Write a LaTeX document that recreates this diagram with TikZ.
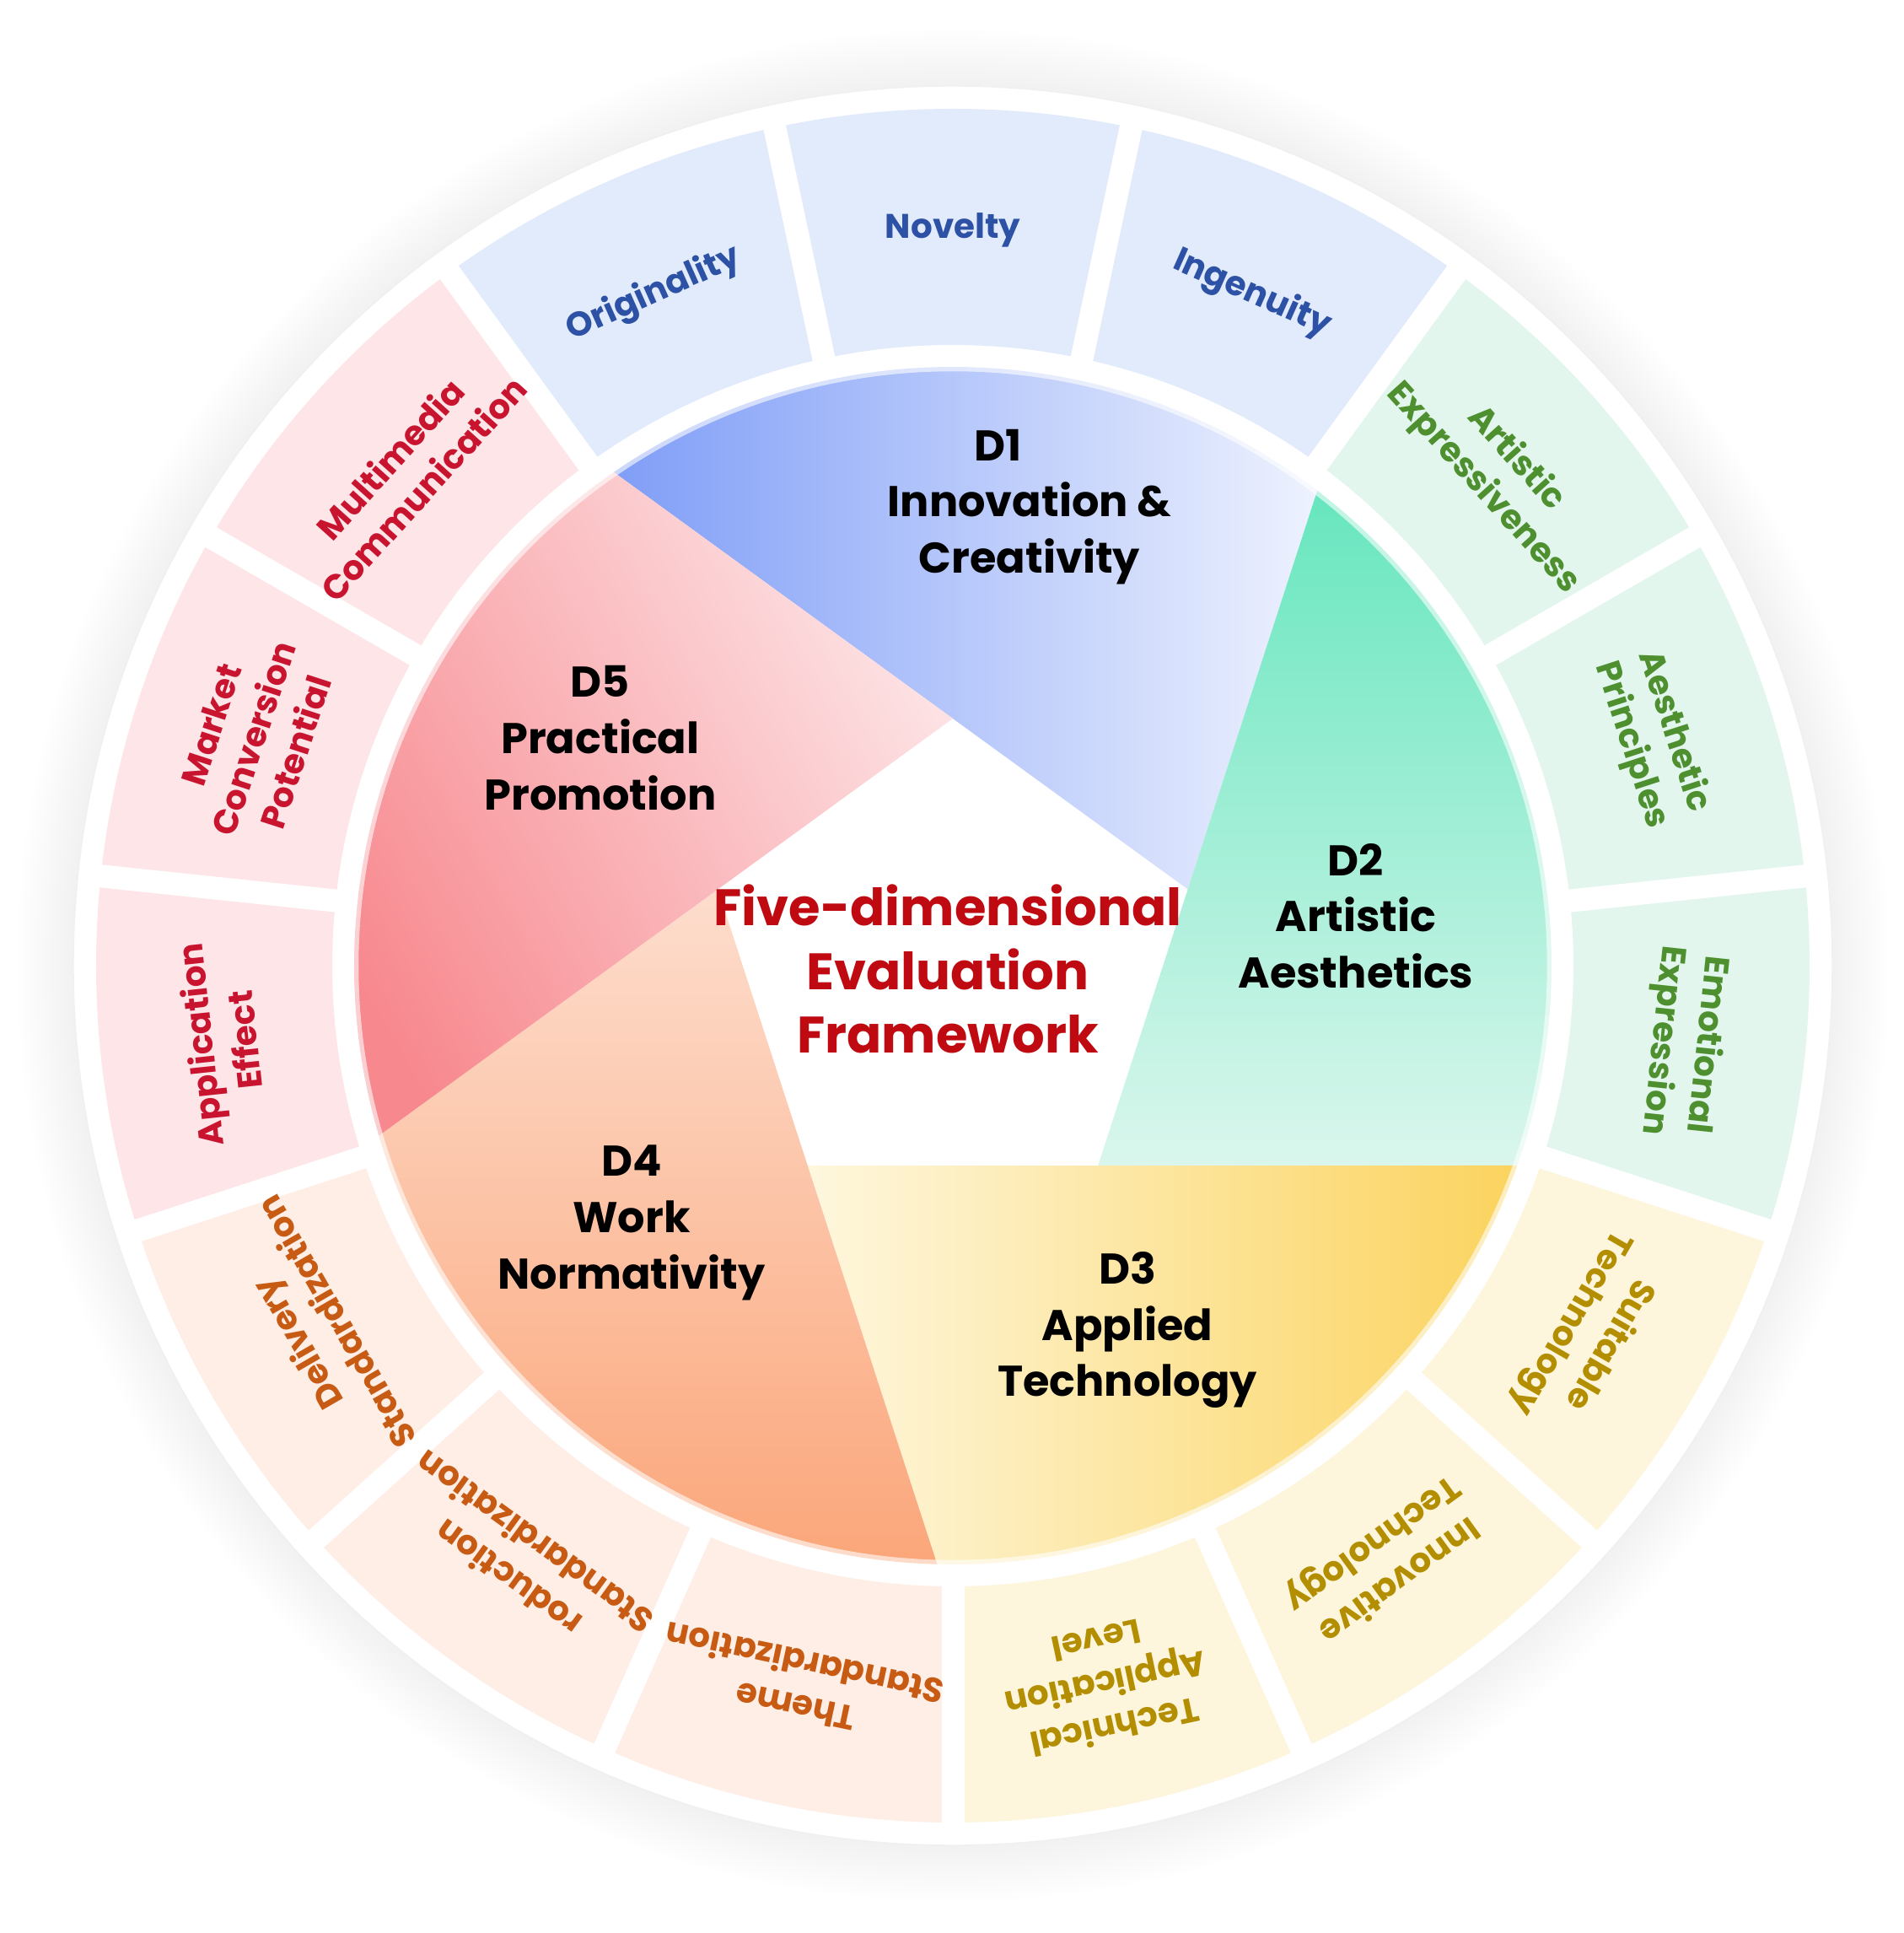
\documentclass[tikz,border=0pt]{standalone}
\usepackage{fontspec}
\setmainfont{Poppins}
\definecolor{bluefill}{HTML}{E2EBFB}
\definecolor{bluetext}{HTML}{2C51A5}
\definecolor{greenfill}{HTML}{E2F6EE}
\definecolor{greentext}{HTML}{4E8F2F}
\definecolor{yellowfill}{HTML}{FEF5DD}
\definecolor{yellowtext}{HTML}{B38E00}
\definecolor{orangefill}{HTML}{FEEEE6}
\definecolor{orangetext}{HTML}{C85B14}
\definecolor{redfill}{HTML}{FDE5E8}
\definecolor{redtext}{HTML}{C8142F}
\definecolor{titlered}{HTML}{BF0A12}
\definecolor{dosat}{HTML}{809EF7}
\definecolor{dolite}{HTML}{EEF2FE}
\definecolor{dtsat}{HTML}{67E6BE}
\definecolor{dtlite}{HTML}{DAF6ED}
\definecolor{dhsat}{HTML}{FBD35E}
\definecolor{dhlite}{HTML}{FEF7DE}
\definecolor{dfsat}{HTML}{FBA67A}
\definecolor{dflite}{HTML}{FDDDCD}
\definecolor{dvsat}{HTML}{F7888E}
\definecolor{dvlite}{HTML}{FDE3E5}
\begin{document}
\begin{tikzpicture}[
  seglabel/.style={font=\bfseries\fontsize{11.5}{15}\selectfont, align=center, inner sep=0pt},
  dimlabel/.style={font=\bfseries\fontsize{14.5}{19}\selectfont, align=center, text=black},
  gap/.style={white, line width=0.27cm}
]
\useasboundingbox (-11.30,-11.47) rectangle (11.27,11.45);
\foreach \r in {10.45,10.50,...,11.15} \fill[black, opacity=0.0035] (0,0) circle (\r);
\path[fill=white, draw=black!6, line width=0.4pt] (0,0) circle (10.43);
\foreach \j/\fc in {0/bluefill,1/bluefill,2/greenfill,3/greenfill,4/greenfill,5/yellowfill,6/yellowfill,7/yellowfill,8/orangefill,9/orangefill,10/orangefill,11/redfill,12/redfill,13/redfill,14/bluefill} {
  \pgfmathsetmacro\a{102-24*\j}
  \pgfmathsetmacro\b{78-24*\j}
  \path[fill=\fc] (\a:7.36) -- (\a:10.16) arc[start angle=\a, end angle=\b, radius=10.16] -- (\b:7.36) arc[start angle=\b, end angle=\a, radius=7.36] -- cycle;
}
\foreach \j in {0,...,14} \draw[gap] ({102-24*\j}:7.2) -- ({102-24*\j}:10.3);
\foreach \k/\sat/\lite/\ang in {0/dosat/dolite/90,1/dtsat/dtlite/0,2/dhsat/dhlite/270,3/dfsat/dflite/180,4/dvsat/dvlite/120} {
  \pgfmathsetmacro\va{90-72*\k}
  \pgfmathsetmacro\vb{18-72*\k}
  \pgfmathsetmacro\ea{124.5-72*\k}
  \pgfmathsetmacro\eb{52.5-72*\k}
  \path[top color=\sat, bottom color=\lite, shading angle=\ang] (\va:2.93) -- (\ea:7.1) arc[start angle=\ea, end angle=\eb, radius=7.1] -- (\vb:2.93) -- cycle;
}
\draw[white, opacity=0.6, line width=3pt] (0,0) circle (7.1);
\foreach \j/\tc/\txt in {0/bluetext/Novelty,1/bluetext/Ingenuity,2/greentext/Artistic\\Expressiveness,3/greentext/Aesthetic\\Principles,4/greentext/Emotional\\Expression,5/yellowtext/Suitable\\Technology,6/yellowtext/Innovative\\Technology,7/yellowtext/Technical\\Application\\Level,8/orangetext/Theme\\Standardization,9/orangetext/roduction\\Standardization,10/orangetext/Delivery\\Standardization,11/redtext/Application\\Effect,12/redtext/Market\\Conversion\\Potential,13/redtext/Multimedia\\Communication,14/bluetext/Originality}
  \node[seglabel, text=\tc, rotate=-24*\j] (seg\j) at ({90-24*\j}:8.72) {\txt};
\node[dimlabel] (d1) at (0.91,5.44) {D1\kern1.45em\\Innovation \&\\Creativity};
\node[dimlabel] (d2) at (4.78,0.59) {D2\\Artistic\\Aesthetics};
\node[dimlabel] (d3) at (2.07,-4.32) {D3\\Applied\\Technology};
\node[dimlabel] (d4) at (-3.81,-3.05) {D4\\Work\\Normativity};
\node[dimlabel] (d5) at (-4.18,2.70) {D5\\Practical\\Promotion};
\node[font=\bfseries\fontsize{17.3}{21.5}\selectfont, text=titlered, align=center] (title) at (-0.06,-0.04) {Five-dimensional\\Evaluation\\Framework};
\end{tikzpicture}
\end{document}
